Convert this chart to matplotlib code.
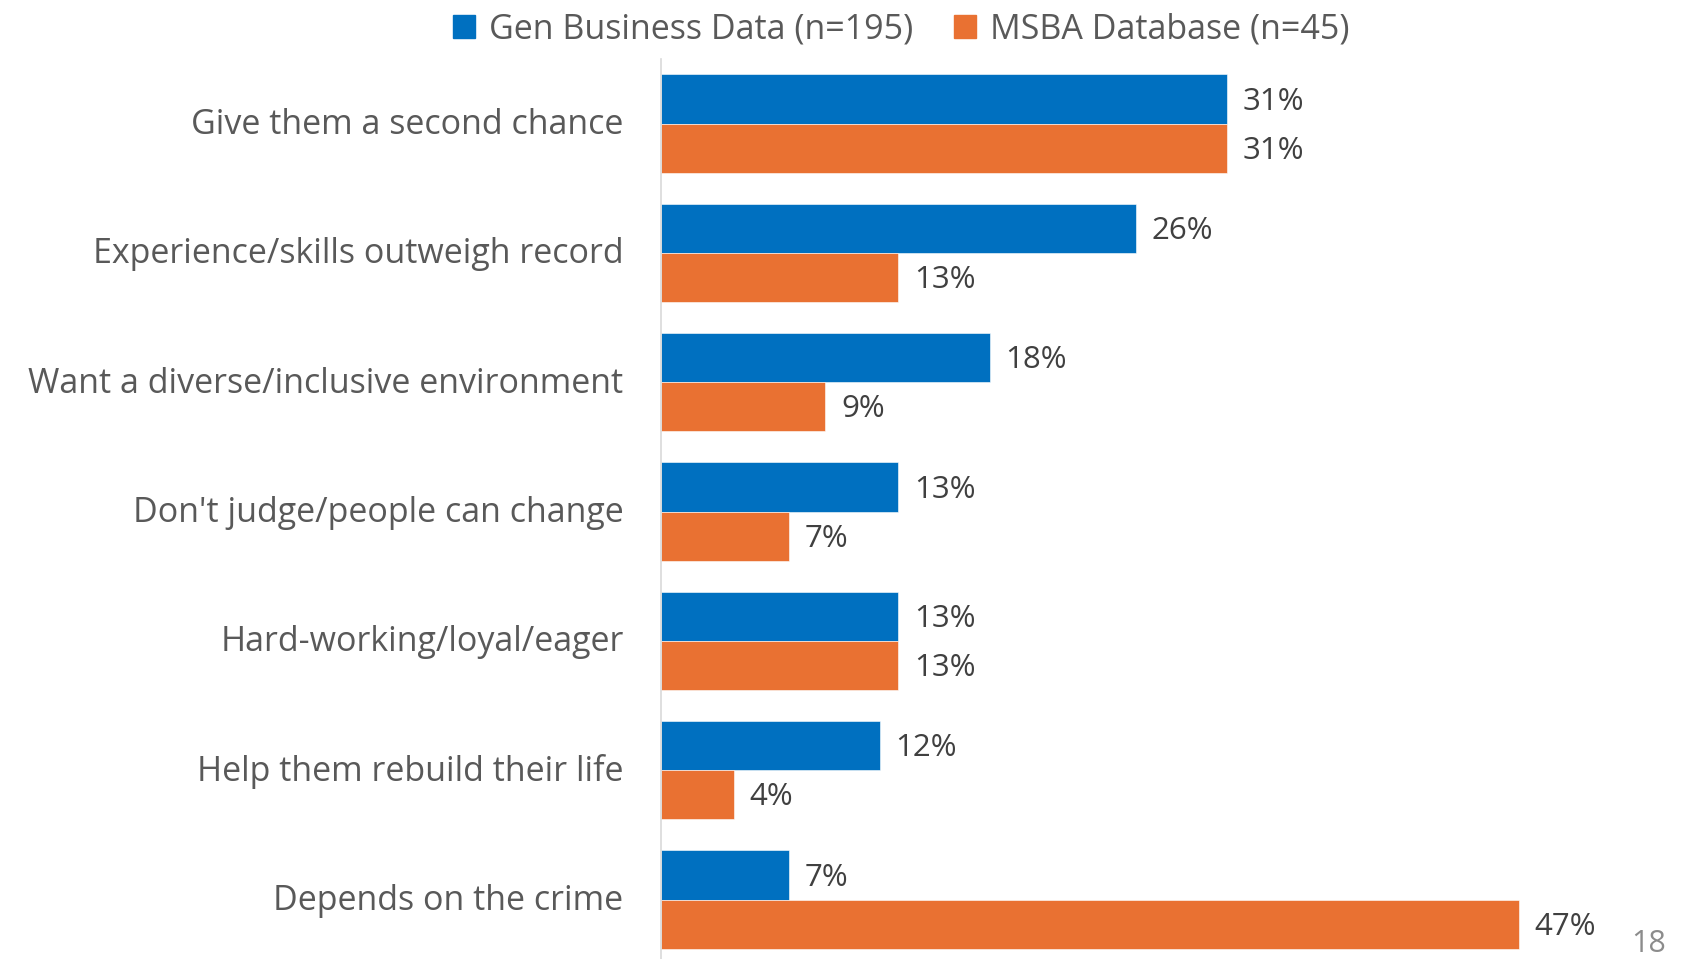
import matplotlib.pyplot as plt
from matplotlib.patches import Patch
import numpy as np

plt.rcParams['font.family'] = ['Open Sans', 'DejaVu Sans']

categories = ["Give them a second chance", "Experience/skills outweigh record",
              "Want a diverse/inclusive environment", "Don't judge/people can change",
              "Hard-working/loyal/eager", "Help them rebuild their life",
              "Depends on the crime"]
gen_business = [31, 26, 18, 13, 13, 12, 7]
msba = [31, 13, 9, 7, 13, 4, 47]
series_names = ["Gen Business Data (n=195)", "MSBA Database (n=45)"]

blue = '#0070C0'
orange = '#E97132'

fig = plt.figure(figsize=(16.83, 9.59), dpi=100)
ax = fig.add_axes([0.3928, 0.0, 0.5424, 0.9385])

y = np.arange(len(categories))
h = 0.38
ax.barh(y - h / 2, gen_business, height=h, color=blue, edgecolor='white', linewidth=0.4)
ax.barh(y + h / 2, msba, height=h, color=orange, edgecolor='white', linewidth=0.4)

for yi, v in zip(y, gen_business):
    ax.text(v + 0.85, yi - h / 2 + 0.02, f"{v}%", va='center', ha='left', fontsize=22.5, color='#404040')
for yi, v in zip(y, msba):
    ax.text(v + 0.85, yi + h / 2 + 0.02, f"{v}%", va='center', ha='left', fontsize=22.5, color='#404040')

ax.set_xlim(0, 50)
ax.set_ylim(6.46, -0.5)
ax.set_yticks(y - 0.02)
ax.set_yticklabels(categories, fontsize=24.5, color='#595959')
ax.tick_params(axis='y', length=0, pad=27)
ax.set_xticks([])
for s in ['top', 'right', 'bottom']:
    ax.spines[s].set_visible(False)
ax.spines['left'].set_color('#D9D9D9')
ax.spines['left'].set_linewidth(1.2)

handles = [Patch(color=blue), Patch(color=orange)]
fig.legend(handles, series_names, loc='center', bbox_to_anchor=(0.5355, 0.969), ncol=2,
           frameon=False, fontsize=24.5, labelcolor='#595959', handlelength=0.65,
           handleheight=0.65, handletextpad=0.4, columnspacing=1.2)

fig.text(0.99, 0.016, "18", fontsize=22, color='#8C8C8C', ha='right', va='center')

fig.savefig('out.png', dpi=100)
